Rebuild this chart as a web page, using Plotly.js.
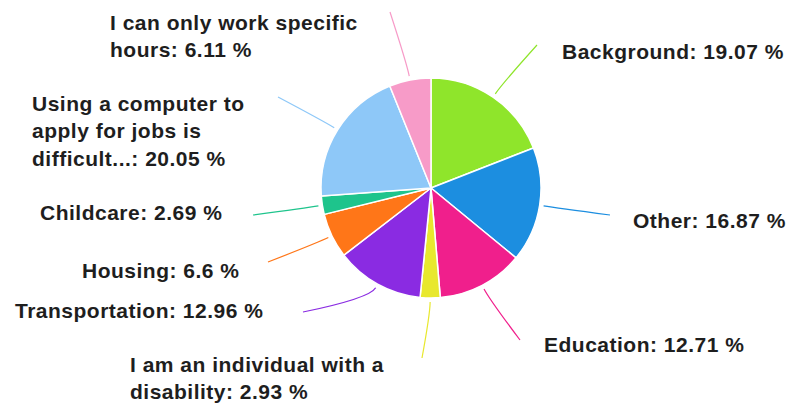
<!DOCTYPE html>
<html><head><meta charset="utf-8">
<script src="https://cdn.plot.ly/plotly-3.0.1.min.js"></script>
<style>html,body{margin:0;padding:0;background:#fff}#chart{width:787px;height:404px}
#chart .annotation-text{letter-spacing:0.5px}</style>
</head><body><div id="chart"></div>
<script>
// ---- data ----
const categories = ["Background", "Other", "Education", "I am an individual with a disability", "Transportation", "Housing", "Childcare", "Using a computer to apply for jobs is difficult...", "I can only work specific hours"];
const percents = [19.07, 16.87, 12.71, 2.93, 12.96, 6.6, 2.69, 20.05, 6.11];
const sliceColors = ["#8fe52b", "#1c8ee0", "#f01f8c", "#e8e82e", "#8a2be2", "#ff7618", "#1ec48c", "#8ec8f8", "#f79bc8"];

// ---- layout helpers (positions in pixels) ----
const W = 787, H = 404, CX = 431, CY = 188, R = 110;
const labelPos = [[560, 51], [631, 220.5], [542, 344.5], [128, 378], [13, 310.5], [80, 270.5], [38, 212.5], [30, 131], [108, 36]];
const lineEnd = [[537, 45], [610, 215], [520, 340], [422, 358], [303, 312], [268, 262], [253, 215], [278, 97], [390, 12]];
const wrapChars = [0, 0, 0, 25, 0, 0, 0, 19, 24];

function wrap(s, n) {
  if (!n) return s;
  const words = s.split(' ');
  const lines = []; let cur = '';
  words.forEach(w => {
    if (cur && (cur + ' ' + w).length > n) { lines.push(cur); cur = w; }
    else cur = cur ? cur + ' ' + w : w;
  });
  if (cur) lines.push(cur);
  return lines.join('<br>');
}
const px = x => x / W, py = y => 1 - y / H;

const total = percents.reduce((a, b) => a + b, 0);
let cum = 0;
const shapes = [], annotations = [];
percents.forEach((v, i) => {
  const mid = (cum + v / 2) / total * 2 * Math.PI; cum += v;
  const ux = Math.sin(mid), uy = -Math.cos(mid);
  const p0 = [CX + (R + 4) * ux, CY + (R + 4) * uy];
  const p1 = [CX + (R + 16) * ux, CY + (R + 16) * uy];
  const e = lineEnd[i];
  shapes.push({
    type: 'path', xref: 'paper', yref: 'paper',
    path: `M ${px(p0[0])} ${py(p0[1])} Q ${px(p1[0])} ${py(p1[1])} ${px(e[0])} ${py(e[1])}`,
    line: {color: sliceColors[i], width: 1.2}
  });
  annotations.push({
    xref: 'paper', yref: 'paper', x: px(labelPos[i][0]), y: py(labelPos[i][1]),
    xanchor: 'left', yanchor: 'middle', align: 'left', showarrow: false,
    text: wrap(categories[i], wrapChars[i]) + ': ' + v + ' %',
    font: {family: 'Liberation Sans, Arial, sans-serif', size: 21, weight: 'bold', color: '#1e1e1e'}
  });
});

const trace = {
  type: 'pie', values: percents, labels: categories, sort: false,
  direction: 'clockwise', rotation: 0, textinfo: 'none', hoverinfo: 'skip',
  marker: {colors: sliceColors, line: {color: '#ffffff', width: 1.5}},
  domain: {x: [px(CX - R), px(CX + R)], y: [py(CY + R), py(CY - R)]},
  showlegend: false
};

Plotly.newPlot('chart', [trace], {
  width: W, height: H, margin: {l: 0, r: 0, t: 0, b: 0},
  paper_bgcolor: '#ffffff', plot_bgcolor: '#ffffff',
  shapes: shapes, annotations: annotations, showlegend: false
}, {displayModeBar: false, staticPlot: true});
</script>
</body></html>
